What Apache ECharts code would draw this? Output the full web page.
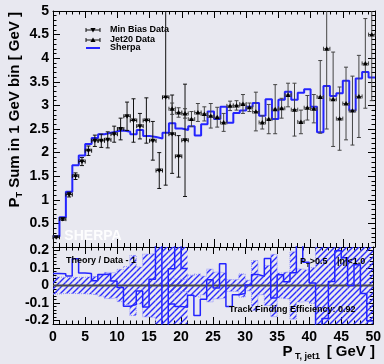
<!DOCTYPE html>
<html><head><meta charset="utf-8">
<script src="https://cdn.jsdelivr.net/npm/echarts@6/dist/echarts.min.js"></script>
<style>html,body{margin:0;padding:0;background:#e8e8f0;}#c{width:384px;height:364px;}</style>
</head><body><div id="c"></div>
<script>
// ---- data (1 GeV bins, value = low edge of bin) ----
const sherpaBin = [0,1,2,3,4,5,6,7,8,9,10,11,12,13,14,15,16,17,18,19,20,21,22,23,24,25,26,27,28,29,30,31,32,33,34,35,36,37,38,39,40,41,42,43,44,45,46,47,48,49];
const sherpaVal = [0.22,0.63,1.17,1.73,1.94,2.18,2.31,2.39,2.42,2.45,2.47,2.44,2.39,2.48,2.35,2.33,2.30,2.42,2.62,2.51,2.48,2.56,2.36,2.60,2.87,2.71,2.97,2.63,2.84,2.89,2.97,3.05,2.78,3.13,2.71,3.12,3.29,3.12,3.27,3.34,2.97,2.43,3.41,3.20,3.26,3.52,2.89,3.57,3.71,3.59];
const minBiasBin = [0,1,2,3,4,5,6,7,8,9,10,11,12,13,14,15,16,17,18,19,20];
const minBiasVal = [0.206,0.59,1.11,1.50,1.81,2.04,2.25,2.25,2.27,2.39,2.50,2.77,2.68,2.56,2.68,2.25,1.62,3.17,2.39,1.92,2.26];
const minBiasErr = [0.01,0.027,0.05,0.07,0.085,0.1,0.12,0.14,0.17,0.17,0.23,0.3,0.46,0.27,0.48,0.41,0.38,1.86,0.83,0.44,1.19];
const jet20Bin = [18,19,20,21,22,23,24,25,26,27,28,29,30,31,32,33,34,35,36,37,38,39,40,41,42,43,44,45,46,47,48,49];
const jet20Val = [2.93,2.85,2.83,2.71,2.85,2.82,2.78,2.75,2.64,2.99,3.00,3.03,2.96,2.87,2.64,2.71,2.92,2.94,3.22,2.91,2.65,2.95,2.93,3.18,4.20,3.13,2.72,3.04,2.89,3.19,3.89,4.50];
const jet20Err = [0.12,0.1,0.1,0.16,0.19,0.15,0.26,0.21,0.19,0.1,0.1,0.2,0.09,0.41,0.14,0.31,0.52,0.21,0.25,0.56,0.25,0.26,0.3,0.77,1.7,1.0,0.67,0.77,0.73,0.87,0.95,1.4];
const ratioTicks = [-0.2,-0.1,0,0.1,0.2];

// ---- helpers ----
const FONT = 'Liberation Sans';
const RMAX = 0.22, YMAX = 5;
const BLUE = '#2424ff';
const sherpaOf = {};
sherpaBin.forEach((b,i)=>{ sherpaOf[b] = sherpaVal[i]; });

function stepPts(bins, vals){
  const pts = bins.map((b,i)=>[b, vals[i]]);
  pts.push([bins[bins.length-1]+1, vals[vals.length-1]]);
  return pts;
}
const mbRatio = minBiasBin.map((b,i)=> sherpaOf[b]/minBiasVal[i]-1);
const j20Ratio = jet20Bin.map((b,i)=> sherpaOf[b]/jet20Val[i]-1);
const mbRel = minBiasBin.map((b,i)=> minBiasErr[i]/minBiasVal[i]);
const j20Rel = jet20Bin.map((b,i)=> jet20Err[i]/jet20Val[i]);

// hatch pattern
const pc = document.createElement('canvas'); pc.width = 6; pc.height = 6;
const g = pc.getContext('2d');
g.strokeStyle = '#2a2aff'; g.lineWidth = 1.4;
g.beginPath(); g.moveTo(-1,7); g.lineTo(7,-1); g.moveTo(-4,4); g.lineTo(4,-4); g.moveTo(2,10); g.lineTo(10,2); g.stroke();
const hatch = {image: pc, repeat: 'repeat'};

function errRender(down, color){
  return function(params, api){
    const x0 = api.value(0), v = api.value(1), e = api.value(2);
    const hiV = Math.min(v+e, YMAX), loV = Math.max(v-e, 0);
    const c = api.coord([x0+0.5, v]);
    const l = api.coord([x0, v]), r = api.coord([x0+1, v]);
    const hi = api.coord([x0+0.5, hiV]), lo = api.coord([x0+0.5, loV]);
    const st = {stroke: color, lineWidth: 1};
    const ch = [];
    ch.push({type:'line', shape:{x1:c[0], y1:hi[1], x2:c[0], y2:lo[1]}, style:st});
    if (v+e <= YMAX) ch.push({type:'line', shape:{x1:c[0]-2, y1:hi[1], x2:c[0]+2, y2:hi[1]}, style:st});
    if (v-e >= 0) ch.push({type:'line', shape:{x1:c[0]-2, y1:lo[1], x2:c[0]+2, y2:lo[1]}, style:st});
    ch.push({type:'line', shape:{x1:l[0], y1:c[1], x2:r[0], y2:c[1]}, style:st});
    ch.push({type:'line', shape:{x1:l[0], y1:c[1]-2, x2:l[0], y2:c[1]+2}, style:st});
    ch.push({type:'line', shape:{x1:r[0], y1:c[1]-2, x2:r[0], y2:c[1]+2}, style:st});
    const pts = down ? [[c[0]-2.6,c[1]-2],[c[0]+2.6,c[1]-2],[c[0],c[1]+2.4]]
                     : [[c[0]-2.6,c[1]+2],[c[0]+2.6,c[1]+2],[c[0],c[1]-2.4]];
    ch.push({type:'polygon', shape:{points:pts}, style:{fill:'#000'}});
    return {type:'group', children: ch};
  };
}
function bandRender(params, api){
  const x0 = api.value(0), h = Math.min(api.value(1), RMAX);
  const a = api.coord([x0, h]), b = api.coord([x0+1, -h]);
  return {type:'rect', shape:{x:a[0], y:a[1], width:b[0]-a[0], height:b[1]-a[1]}, style:{fill: hatch}};
}

function xAx(grid, pos, label, len){
  return {type:'value', gridIndex:grid, position:pos, min:0, max:50, interval:5,
    axisLine:{show:true, onZero:false, lineStyle:{color:'#000', width:1}},
    axisTick:{show:true, inside:true, length:len, lineStyle:{color:'#000', width:1}},
    minorTick:{show:true, splitNumber:5, length:len/2, lineStyle:{color:'#000', width:1}},
    splitLine:{show:false}, minorSplitLine:{show:false},
    axisLabel:{show:label, color:'#000', fontFamily:FONT, fontWeight:'bold', fontSize:14, margin:6}};
}
const lab = {color:'#000', fontFamily:FONT, fontWeight:'bold', fontSize:14, margin:4};

const option = {
  backgroundColor:'#e8e8f0',
  animation:false,
  grid:[{left:53, right:9, top:11, height:236},{left:53, right:9, top:247, height:77}],
  xAxis:[xAx(0,'bottom',false,8), xAx(0,'top',false,7), xAx(1,'bottom',true,7), xAx(1,'top',false,7)],
  yAxis:[
    {type:'value', gridIndex:0, position:'left', min:0, max:YMAX, interval:0.5,
     axisLine:{show:true,onZero:false,lineStyle:{color:'#000',width:1}},
     axisTick:{show:true,inside:true,length:7,lineStyle:{color:'#000'}},
     minorTick:{show:true,splitNumber:5,length:3.5,lineStyle:{color:'#000'}},
     splitLine:{show:false}, axisLabel:Object.assign({formatter:v=> v===0?'':String(v)}, lab)},
    {type:'value', gridIndex:0, position:'right', min:0, max:YMAX, interval:0.5,
     axisLine:{show:true,onZero:false,lineStyle:{color:'#000',width:1}},
     axisTick:{show:true,inside:true,length:7,lineStyle:{color:'#000'}},
     minorTick:{show:true,splitNumber:5,length:3.5,lineStyle:{color:'#000'}},
     splitLine:{show:false}, axisLabel:{show:false}},
    {type:'value', gridIndex:1, position:'left', min:-RMAX, max:RMAX,
     axisLine:{show:true,onZero:false,lineStyle:{color:'#000',width:1}},
     axisTick:{show:true,inside:true,length:7,customValues:ratioTicks,lineStyle:{color:'#000'}},
     splitLine:{show:false}, axisLabel:Object.assign({customValues:ratioTicks}, lab)},
    {type:'value', gridIndex:1, position:'left', min:-RMAX, max:RMAX, interval:0.02,
     axisLine:{show:false,onZero:false}, axisTick:{show:true,inside:true,length:3.5,lineStyle:{color:'#000'}},
     splitLine:{show:false}, axisLabel:{show:false}},
    {type:'value', gridIndex:1, position:'right', min:-RMAX, max:RMAX,
     axisLine:{show:true,onZero:false,lineStyle:{color:'#000',width:1}},
     axisTick:{show:true,inside:true,length:7,customValues:ratioTicks,lineStyle:{color:'#000'}},
     splitLine:{show:false}, axisLabel:{show:false}},
    {type:'value', gridIndex:1, position:'right', min:-RMAX, max:RMAX, interval:0.02,
     axisLine:{show:false,onZero:false}, axisTick:{show:true,inside:true,length:3.5,lineStyle:{color:'#000'}},
     splitLine:{show:false}, axisLabel:{show:false}}
  ],
  series:[
    {type:'line', xAxisIndex:0, yAxisIndex:0, step:'end', showSymbol:false, clip:true,
     data: stepPts(sherpaBin, sherpaVal), lineStyle:{color:BLUE, width:2}, z:3},
    {type:'custom', xAxisIndex:0, yAxisIndex:0, renderItem: errRender(true,'#111'), z:4,
     encode:{x:0,y:1}, data: minBiasBin.map((b,i)=>[b, minBiasVal[i], minBiasErr[i]])},
    {type:'custom', xAxisIndex:0, yAxisIndex:0, renderItem: errRender(false,'#444'), z:4,
     encode:{x:0,y:1}, data: jet20Bin.map((b,i)=>[b, jet20Val[i], jet20Err[i]])},
    {type:'custom', xAxisIndex:2, yAxisIndex:2, renderItem: bandRender, z:2,
     encode:{x:0,y:1}, data: minBiasBin.map((b,i)=>[b, mbRel[i]])},
    {type:'custom', xAxisIndex:2, yAxisIndex:2, renderItem: bandRender, z:2,
     encode:{x:0,y:1}, data: jet20Bin.map((b,i)=>[b, j20Rel[i]])},
    {type:'line', xAxisIndex:2, yAxisIndex:2, step:'end', showSymbol:false, clip:true, z:2,
     data: stepPts(minBiasBin, mbRel), lineStyle:{color:'#8f8fff', width:1, type:'dotted'}},
    {type:'line', xAxisIndex:2, yAxisIndex:2, step:'end', showSymbol:false, clip:true, z:2,
     data: stepPts(minBiasBin, mbRel.map(v=>-v)), lineStyle:{color:'#8f8fff', width:1, type:'dotted'}},
    {type:'line', xAxisIndex:2, yAxisIndex:2, step:'end', showSymbol:false, clip:true, z:2,
     data: stepPts(jet20Bin, j20Rel), lineStyle:{color:'#8f8fff', width:1, type:'dotted'}},
    {type:'line', xAxisIndex:2, yAxisIndex:2, step:'end', showSymbol:false, clip:true, z:2,
     data: stepPts(jet20Bin, j20Rel.map(v=>-v)), lineStyle:{color:'#8f8fff', width:1, type:'dotted'}},
    {type:'line', xAxisIndex:2, yAxisIndex:2, showSymbol:false, z:4,
     data: [[0,0],[50,0]], lineStyle:{color:'#4a4a4a', width:2}},
    {type:'line', xAxisIndex:2, yAxisIndex:2, step:'end', showSymbol:false, clip:true, z:5,
     data: stepPts(minBiasBin, mbRatio), lineStyle:{color:BLUE, width:1.5}},
    {type:'line', xAxisIndex:2, yAxisIndex:2, step:'end', showSymbol:false, clip:true, z:5,
     data: stepPts(jet20Bin, j20Ratio), lineStyle:{color:BLUE, width:1.5}}
  ],
  graphic:[
    {type:'text', x:93, y:236, z:1, style:{text:'SHERPA', fill:'rgba(255,255,255,0.9)', font:'bold 14px "Liberation Sans"', align:'center', verticalAlign:'middle'}},
    {type:'text', x:15, y:12, rotation:Math.PI/2, style:{text:'{a|P}{b|T}{a| Sum in 1 GeV bin [ GeV ]}', align:'right', verticalAlign:'middle',
      rich:{a:{fontFamily:FONT, fontWeight:'bold', fontSize:15, fill:'#000', lineHeight:18},
            b:{fontFamily:FONT, fontWeight:'bold', fontSize:9, fill:'#000', lineHeight:18, verticalAlign:'bottom'}}}},
    {type:'text', x:375, y:352, style:{text:'{a|P}{b| T, jet1 }{a| [ GeV ]}', align:'right', verticalAlign:'middle',
      rich:{a:{fontFamily:FONT, fontWeight:'bold', fontSize:15, fill:'#000', lineHeight:18},
            b:{fontFamily:FONT, fontWeight:'bold', fontSize:9, fill:'#000', lineHeight:18, verticalAlign:'bottom'}}}},
    {type:'group', children:[
      {type:'line', shape:{x1:86,y1:30,x2:100,y2:30}, style:{stroke:'#111',lineWidth:1}},
      {type:'line', shape:{x1:86,y1:28,x2:86,y2:32}, style:{stroke:'#111',lineWidth:1}},
      {type:'line', shape:{x1:100,y1:28,x2:100,y2:32}, style:{stroke:'#111',lineWidth:1}},
      {type:'polygon', shape:{points:[[90.4,28],[95.6,28],[93,32.4]]}, style:{fill:'#000'}},
      {type:'text', x:110, y:30, style:{text:'Min Bias Data', font:'bold 9px "Liberation Sans"', fill:'#000', verticalAlign:'middle'}},
      {type:'line', shape:{x1:86,y1:40,x2:100,y2:40}, style:{stroke:'#111',lineWidth:1}},
      {type:'line', shape:{x1:86,y1:38,x2:86,y2:42}, style:{stroke:'#111',lineWidth:1}},
      {type:'line', shape:{x1:100,y1:38,x2:100,y2:42}, style:{stroke:'#111',lineWidth:1}},
      {type:'polygon', shape:{points:[[90.4,42],[95.6,42],[93,37.6]]}, style:{fill:'#000'}},
      {type:'text', x:110, y:40, style:{text:'Jet20 Data', font:'bold 9px "Liberation Sans"', fill:'#000', verticalAlign:'middle'}},
      {type:'line', shape:{x1:86,y1:48,x2:100,y2:48}, style:{stroke:BLUE,lineWidth:2}},
      {type:'text', x:110, y:48, style:{text:'Sherpa', font:'bold 9px "Liberation Sans"', fill:'#000', verticalAlign:'middle'}}
    ]},
    {type:'text', x:66, y:261, z:10, style:{text:'Theory / Data - 1', font:'bold 9px "Liberation Sans"', fill:'#000', verticalAlign:'middle'}},
    {type:'text', x:300, y:262, z:10, style:{text:'{a|P}{b|T}{a|>0.5}', verticalAlign:'middle',
      rich:{a:{fontFamily:FONT, fontWeight:'bold', fontSize:9, fill:'#000', lineHeight:12},
            b:{fontFamily:FONT, fontWeight:'bold', fontSize:6, fill:'#000', lineHeight:12, verticalAlign:'bottom'}}}},
    {type:'text', x:337, y:262, z:10, style:{text:'|\u03b7|<1.0', font:'bold 9px "Liberation Sans"', fill:'#000', verticalAlign:'middle'}},
    {type:'text', x:229, y:310, z:10, style:{text:'Track Finding Efficiency: 0.92', font:'bold 9px "Liberation Sans"', fill:'#000', verticalAlign:'middle'}}
  ]
};
const chart = echarts.init(document.getElementById('c'));
chart.setOption(option);
</script>
</body></html>
